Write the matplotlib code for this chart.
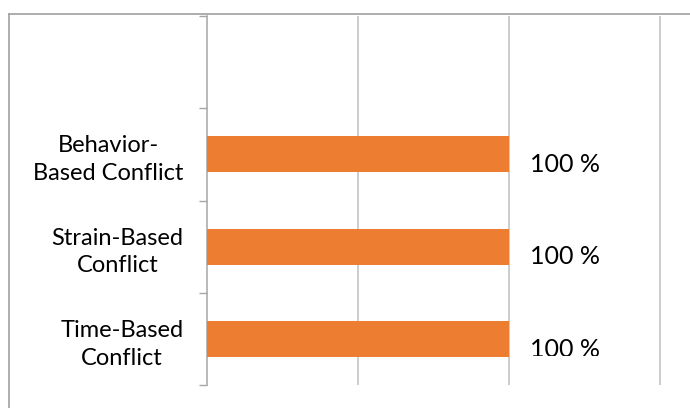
import matplotlib.pyplot as plt
from matplotlib.transforms import Bbox, TransformedBbox
from matplotlib.lines import Line2D

# data
categories = ['Time-Based\nConflict', 'Strain-Based\nConflict', 'Behavior-\nBased Conflict']
values = [100, 100, 100]
labels = ['100 %', '100 %', '100 %']

plt.rcParams['font.family'] = ['Lato', 'DejaVu Sans']

fig = plt.figure(figsize=(6.9, 4.08), dpi=100)
ax = fig.add_axes([0.3, 0.056, 0.70, 0.905])

ypos = list(range(len(categories)))
bar_h = 0.39
ax.barh(ypos, values, height=bar_h, color='#ED7D31', zorder=3)

ax.set_xlim(0, 160)
ax.set_ylim(-0.5, len(categories) + 0.5)

# grid
ax.set_xticks([50, 100, 150])
ax.xaxis.grid(True, color='#BFBFBF', linewidth=1.1, zorder=0)
ax.tick_params(axis='x', length=0, labelbottom=False)

ax.set_yticks(ypos)
ax.set_yticklabels(categories, fontsize=17, linespacing=1.4)
for t in ax.get_yticklabels():
    t.set_multialignment('center')
ax.tick_params(axis='y', which='major', length=0, pad=17)
ax.set_yticks([y - 0.5 for y in range(len(categories) + 2)], minor=True)
ax.tick_params(axis='y', which='minor', length=6, color='#A6A6A6', width=1)

for s in ['top', 'right', 'bottom']:
    ax.spines[s].set_visible(False)
ax.spines['left'].set_color('#A6A6A6')
ax.spines['left'].set_linewidth(1.1)

# value labels (bottom one is cut off at the bar edge, as in the original)
clip = TransformedBbox(Bbox([[0, -bar_h / 2 + 0.01], [160, len(categories) + 0.5]]), ax.transData)
for y, v, lab in zip(ypos, values, labels):
    t = ax.text(v + 7, y - 0.11, lab, fontsize=18, va='center', ha='left')
    t.set_clip_on(True)
    t.set_clip_box(clip)

# outer frame (partly cut off)
fig.add_artist(Line2D([9 / 690, 9 / 690], [0, 1 - 14 / 408], transform=fig.transFigure,
                      color='#A0A0A0', linewidth=1.2))
fig.add_artist(Line2D([9 / 690, 1], [1 - 14 / 408, 1 - 14 / 408], transform=fig.transFigure,
                      color='#A0A0A0', linewidth=1.2))

fig.savefig('out.png', dpi=100)
